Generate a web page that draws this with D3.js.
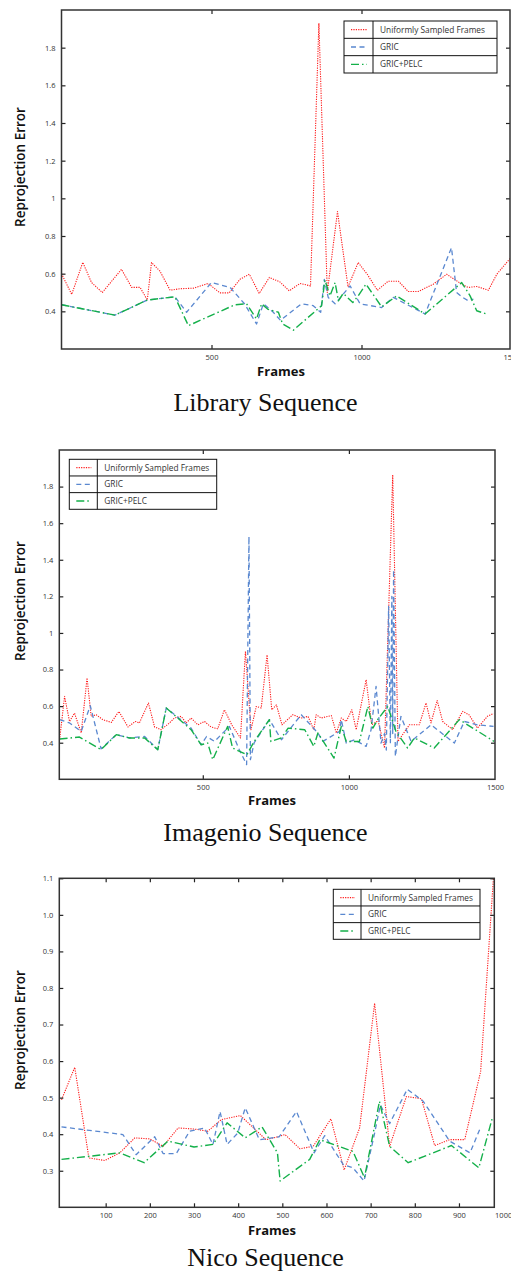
<!DOCTYPE html>
<html><head><meta charset="utf-8">
<script src="https://cdn.jsdelivr.net/npm/d3@7"></script>
<style>
html,body{margin:0;padding:0;background:#fff;}
svg{display:block;}
</style></head>
<body>
<script>
// ---------- DATA ----------
const seriesNames = ["Uniformly Sampled Frames", "GRIC", "GRIC+PELC"];
const captions = ["Library Sequence", "Imagenio Sequence", "Nico Sequence"];
const xLabel = "Frames";
const yLabel = "Reprojection Error";

const yTicksA = [0.4, 0.6, 0.8, 1.0, 1.2, 1.4, 1.6, 1.8];
const yTicksB = [0.3, 0.4, 0.5, 0.6, 0.7, 0.8, 0.9, 1.0, 1.1];
const xTicksLib = [500, 1000, 1500];
const xTicksIma = [500, 1000, 1500];
const xTicksNico = [100, 200, 300, 400, 500, 600, 700, 800, 900, 1000];

// Library sequence [frame, error]
const libUniform = [[0,0.60],[34,0.49],[71,0.66],[100,0.553],[136,0.50],[200,0.623],[234,0.527],[262,0.527],[286,0.46],[300,0.659],[328,0.614],[362,0.512],[395,0.52],[440,0.523],[489,0.548],[528,0.498],[559,0.498],[595,0.57],[626,0.597],[659,0.495],[693,0.58],[728,0.556],[759,0.509],[795,0.548],[830,0.535],[858,1.93],[886,0.50],[920,0.93],[955,0.53],[989,0.659],[1019,0.597],[1053,0.512],[1089,0.56],[1123,0.56],[1156,0.505],[1189,0.505],[1239,0.544],[1284,0.597],[1334,0.544],[1356,0.527],[1384,0.532],[1423,0.512],[1451,0.597],[1495,0.68]];
const libGric = [[0,0.435],[178,0.38],[286,0.46],[378,0.477],[417,0.395],[500,0.553],[562,0.527],[610,0.44],[650,0.333],[673,0.44],[706,0.395],[730,0.352],[800,0.44],[839,0.43],[864,0.395],[876,0.57],[889,0.474],[912,0.44],[962,0.535],[995,0.44],[1067,0.42],[1106,0.474],[1212,0.386],[1300,0.738],[1317,0.50],[1337,0.474],[1356,0.456],[1373,0.465]];
const libPelc = [[0,0.435],[178,0.38],[286,0.46],[378,0.477],[423,0.324],[578,0.435],[617,0.44],[650,0.36],[667,0.44],[689,0.41],[723,0.395],[737,0.333],[773,0.30],[867,0.43],[878,0.566],[895,0.482],[912,0.553],[923,0.456],[939,0.495],[971,0.447],[989,0.482],[1015,0.544],[1067,0.424],[1117,0.482],[1212,0.386],[1334,0.553],[1362,0.482],[1384,0.403],[1417,0.386]];

// Imagenio sequence
const imaUniform = [[10,0.416],[27,0.653],[44,0.516],[61,0.562],[84,0.453],[104,0.754],[118,0.544],[135,0.553],[158,0.526],[187,0.511],[213,0.571],[244,0.486],[269,0.516],[283,0.508],[314,0.617],[335,0.486],[357,0.471],[386,0.508],[403,0.535],[426,0.544],[443,0.508],[460,0.535],[483,0.498],[506,0.516],[528,0.486],[551,0.476],[574,0.58],[599,0.498],[629,0.426],[646,0.90],[665,0.471],[683,0.598],[700,0.59],[720,0.88],[736,0.58],[752,0.607],[771,0.498],[808,0.553],[837,0.535],[860,0.544],[880,0.471],[888,0.553],[905,0.535],[940,0.548],[957,0.453],[974,0.535],[991,0.516],[1010,0.58],[1025,0.471],[1059,0.744],[1078,0.498],[1100,0.52],[1122,0.371],[1150,1.865],[1168,0.407],[1207,0.498],[1241,0.498],[1264,0.617],[1281,0.508],[1302,0.631],[1321,0.516],[1355,0.471],[1389,0.571],[1411,0.553],[1440,0.48],[1474,0.544],[1495,0.56]];
const imaGric = [[10,0.526],[44,0.508],[84,0.462],[115,0.602],[152,0.367],[204,0.444],[249,0.426],[301,0.434],[346,0.362],[375,0.59],[460,0.48],[494,0.389],[513,0.434],[540,0.407],[591,0.489],[625,0.362],[650,0.28],[658,1.527],[663,0.307],[676,0.40],[728,0.526],[769,0.416],[837,0.553],[894,0.453],[911,0.407],[968,0.462],[974,0.526],[991,0.398],[1019,0.416],[1059,0.38],[1076,0.471],[1093,0.708],[1110,0.398],[1122,0.45],[1128,0.36],[1136,1.145],[1142,0.40],[1147,1.20],[1150,0.45],[1153,1.345],[1159,0.325],[1178,0.544],[1213,0.407],[1281,0.498],[1361,0.398],[1395,0.516],[1440,0.498],[1495,0.489]];
const imaPelc = [[10,0.42],[78,0.431],[152,0.362],[204,0.444],[249,0.426],[301,0.426],[346,0.362],[375,0.59],[460,0.471],[494,0.389],[517,0.398],[534,0.307],[585,0.489],[602,0.371],[651,0.334],[676,0.407],[728,0.526],[733,0.407],[769,0.426],[792,0.48],[849,0.471],[880,0.38],[894,0.453],[949,0.316],[974,0.489],[991,0.407],[1036,0.407],[1065,0.598],[1082,0.48],[1100,0.53],[1133,0.598],[1161,0.462],[1201,0.371],[1224,0.426],[1292,0.371],[1378,0.526],[1497,0.407]];

// Nico sequence
const nicoUniform = [[0,0.494],[30,0.583],[62,0.335],[98,0.328],[132,0.349],[166,0.39],[200,0.387],[230,0.367],[264,0.417],[301,0.414],[331,0.408],[362,0.44],[405,0.451],[463,0.385],[490,0.393],[506,0.399],[540,0.36],[570,0.367],[610,0.442],[640,0.302],[675,0.417],[709,0.758],[743,0.367],[781,0.503],[815,0.497],[845,0.369],[879,0.385],[913,0.385],[949,0.571],[978,1.10]];
const nicoGric = [[0,0.42],[139,0.399],[169,0.344],[211,0.393],[230,0.347],[260,0.347],[290,0.408],[324,0.417],[343,0.372],[359,0.462],[375,0.372],[399,0.403],[416,0.472],[448,0.385],[493,0.393],[532,0.462],[572,0.349],[596,0.396],[638,0.317],[660,0.308],[685,0.272],[709,0.403],[722,0.48],[743,0.429],[783,0.523],[819,0.49],[879,0.381],[925,0.349],[947,0.413]];
const nicoPelc = [[0,0.331],[132,0.349],[187,0.322],[241,0.381],[300,0.365],[343,0.372],[375,0.431],[416,0.39],[454,0.42],[489,0.349],[495,0.272],[562,0.331],[585,0.385],[660,0.353],[686,0.281],[720,0.49],[743,0.367],[785,0.322],[883,0.369],[945,0.308],[975,0.442]];

// ---------- STYLE / LAYOUT ----------
const W = 511, H = 1273;
const colors = ["#ff1a1a", "#5a88d0", "#14b04a"];
const dashes = ["1.2,1.2", "5,3.5", "8,3,1.5,3"];
const widths = [1.1, 1.3, 1.4];

const charts = [
  {data:[libUniform, libGric, libPelc], xDomain:[0,1495], x0:61.5, x1:510, y0:10, y1:349,
   yDomain:[0.2,2.0], yTicks:yTicksA, yFmt:d=>d===1?"1":d.toFixed(1), xTicks:xTicksLib, topTicks:[500,1000],
   legend:{x:344, y:21, w:153, h:52, div:29}, frames:{x:281, y:376}, cap:{y:411}, ylab:{y:167}},
  {data:[imaUniform, imaGric, imaPelc], xDomain:[9,1500], x0:59.3, x1:495, y0:450, y1:779.3,
   yDomain:[0.2,2.0], yTicks:yTicksA, yFmt:d=>d===1?"1":d.toFixed(1), xTicks:xTicksIma, topTicks:[500,1000],
   legend:{x:69.3, y:459.3, w:147.4, h:50, div:28}, frames:{x:272, y:805}, cap:{y:841}, ylab:{y:601}},
  {data:[nicoUniform, nicoGric, nicoPelc], xDomain:[-5,980], x0:59.3, x1:494.3, y0:878.3, y1:1207.3,
   yDomain:[0.2,1.1], yTicks:yTicksB, yFmt:d=>d.toFixed(1), xTicks:xTicksNico, topTicks:[100,200,300,400,500,600,700,800,900],
   legend:{x:333.3, y:889.3, w:146.7, h:50, div:27.7}, frames:{x:272, y:1235}, cap:{y:1266}, ylab:{y:1030}}
];

const svg = d3.select("body").append("svg").attr("width", W).attr("height", H);
const tickFont = "'Open Sans', 'DejaVu Sans', sans-serif";

charts.forEach((c, ci) => {
  const x = d3.scaleLinear().domain(c.xDomain).range([c.x0, c.x1]);
  const y = d3.scaleLinear().domain(c.yDomain).range([c.y1, c.y0]);
  const g = svg.append("g");
  const clipId = "clip" + ci;
  svg.append("clipPath").attr("id", clipId).append("rect")
    .attr("x", c.x0).attr("y", c.y0).attr("width", c.x1 - c.x0).attr("height", c.y1 - c.y0);

  // lines
  const line = d3.line().x(d => x(d[0])).y(d => y(d[1]));
  const lg = g.append("g").attr("clip-path", `url(#${clipId})`);
  c.data.forEach((s, i) => {
    lg.append("path").datum(s).attr("d", line).attr("fill", "none")
      .attr("stroke", colors[i]).attr("stroke-width", widths[i])
      .attr("stroke-dasharray", dashes[i]).attr("stroke-linejoin", "round");
  });

  // axes: inward ticks
  const tk = 4;
  const axL = d3.axisLeft(y).tickValues(c.yTicks).tickFormat(c.yFmt).tickSize(-tk).tickPadding(6);
  const axR = d3.axisRight(y).tickValues(c.yTicks).tickFormat("").tickSize(-tk);
  const axB = d3.axisBottom(x).tickValues(c.xTicks).tickFormat(d3.format("d")).tickSize(-tk).tickPadding(7);
  const axT = d3.axisTop(x).tickValues(c.topTicks).tickFormat("").tickSize(-tk);
  const gl = g.append("g").attr("transform", `translate(${c.x0},0)`).call(axL);
  const gr = g.append("g").attr("transform", `translate(${c.x1},0)`).call(axR);
  const gb = g.append("g").attr("transform", `translate(0,${c.y1})`).call(axB);
  const gt = g.append("g").attr("transform", `translate(0,${c.y0})`).call(axT);
  [gl, gr, gb, gt].forEach(a => {
    a.select(".domain").remove();
    a.selectAll(".tick line").attr("stroke", "#222").attr("stroke-width", 1.2);
    a.selectAll(".tick text").attr("font-family", tickFont).attr("font-size", 7.5).attr("fill", "#333");
  });
  gb.selectAll(".tick").filter(d => x(d) > c.x1 - 1 || x(d) < c.x0 + 1).select("line").remove();
  gb.selectAll(".tick text").attr("dy", "0.5em");

  // frame box
  g.append("rect").attr("x", c.x0).attr("y", c.y0).attr("width", c.x1 - c.x0).attr("height", c.y1 - c.y0)
    .attr("fill", "none").attr("stroke", "#333").attr("stroke-width", 1.5);

  // labels
  g.append("text").attr("x", c.frames.x).attr("y", c.frames.y).attr("text-anchor", "middle")
    .attr("font-family", tickFont).attr("font-weight", "bold").attr("font-size", 13).attr("fill", "#111").text(xLabel);
  g.append("text").attr("transform", `translate(24.5,${c.ylab.y}) rotate(-90)`).attr("text-anchor", "middle")
    .attr("font-family", tickFont).attr("font-weight", 600).attr("font-size", 13.5).attr("fill", "#111").text(yLabel);
  g.append("text").attr("x", 265.5).attr("y", c.cap.y).attr("text-anchor", "middle")
    .attr("font-family", "'Liberation Serif', 'Times New Roman', serif").attr("font-size", 26).attr("fill", "#111")
    .text(captions[ci]);

  // legend
  const L = c.legend, rh = L.h / 3;
  const leg = g.append("g");
  leg.append("rect").attr("x", L.x).attr("y", L.y).attr("width", L.w).attr("height", L.h)
    .attr("fill", "#fff").attr("stroke", "#111").attr("stroke-width", 1);
  leg.append("line").attr("x1", L.x + L.div).attr("x2", L.x + L.div).attr("y1", L.y).attr("y2", L.y + L.h)
    .attr("stroke", "#111").attr("stroke-width", 1);
  [1, 2].forEach(k => leg.append("line").attr("x1", L.x).attr("x2", L.x + L.w)
    .attr("y1", L.y + rh * k).attr("y2", L.y + rh * k).attr("stroke", "#111").attr("stroke-width", 1));
  seriesNames.forEach((n, i) => {
    const cy = L.y + rh * i + rh / 2;
    leg.append("line").attr("x1", L.x + 7).attr("x2", L.x + L.div - 6).attr("y1", cy).attr("y2", cy)
      .attr("stroke", colors[i]).attr("stroke-width", widths[i]).attr("stroke-dasharray", dashes[i]);
    leg.append("text").attr("x", L.x + L.div + 7).attr("y", cy).attr("dy", "0.35em")
      .attr("font-family", tickFont).attr("font-size", 8.3).attr("fill", "#333").text(n);
  });
});
</script>
</body></html>
